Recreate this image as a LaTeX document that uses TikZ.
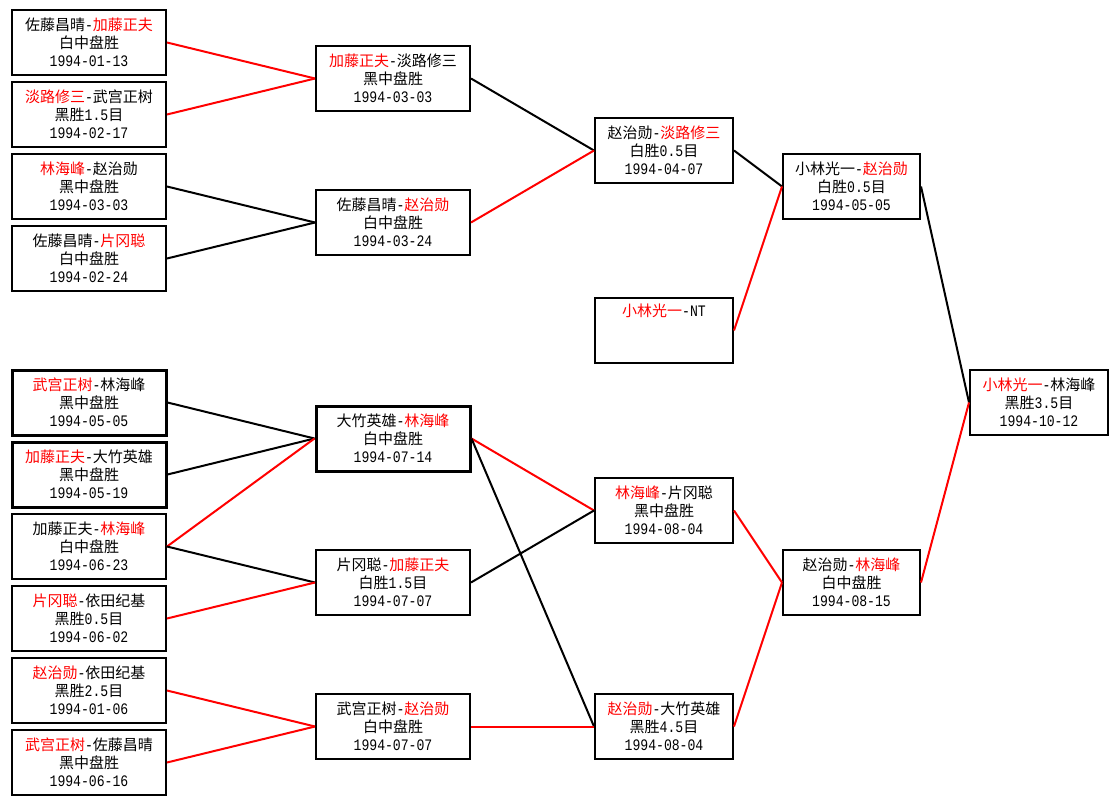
\documentclass[tikz,border=0pt]{standalone}
\usepackage{fontspec}
\setmainfont{Noto Sans CJK SC}
\newfontfamily\monofam[FakeStretch=0.82]{Liberation Mono}
\newcommand\rt[1]{\textcolor{red}{#1}}
\newcommand\mn[1]{{\monofam\fontsize{16}{18}\selectfont #1}}
\newcommand\hy{\mn{-}}
\begin{document}
\begin{tikzpicture}[x=1pt,y=-1pt,
  game/.style={draw=black, line width=2pt, fill=white, rectangle, minimum height=65pt,
    align=center, inner sep=0pt, font=\fontsize{15}{18}\selectfont},
  thick game/.style={game, line width=3pt},
  cA/.style={minimum width=154pt},
  cB/.style={minimum width=154pt},
  cC/.style={minimum width=138pt},
  cD/.style={minimum width=137pt},
  cE/.style={minimum width=138pt},
  win/.style={draw=red, line width=2pt},
  lose/.style={draw=black, line width=2pt}
]
\useasboundingbox (0,0) rectangle (1119,805);
% column 1
\node[game,cA] (n1) at (89,42.5) {佐藤昌晴\hy\rt{加藤正夫}\\白中盘胜\\\mn{1994-01-13}};
\node[game,cA] (n2) at (89,114.5) {\rt{淡路修三}\hy 武宫正树\\黑胜\mn{1.5}目\\\mn{1994-02-17}};
\node[game,cA] (n3) at (89,186.5) {\rt{林海峰}\hy 赵治勋\\黑中盘胜\\\mn{1994-03-03}};
\node[game,cA] (n4) at (89,258.5) {佐藤昌晴\hy\rt{片冈聪}\\白中盘胜\\\mn{1994-02-24}};
\node[thick game,cA] (n5) at (89,402.5) {\rt{武宫正树}\hy 林海峰\\黑中盘胜\\\mn{1994-05-05}};
\node[thick game,cA] (n6) at (89,474.5) {\rt{加藤正夫}\hy 大竹英雄\\黑中盘胜\\\mn{1994-05-19}};
\node[game,cA] (n7) at (89,546.5) {加藤正夫\hy\rt{林海峰}\\白中盘胜\\\mn{1994-06-23}};
\node[game,cA] (n8) at (89,618.5) {\rt{片冈聪}\hy 依田纪基\\黑胜\mn{0.5}目\\\mn{1994-06-02}};
\node[game,cA] (n9) at (89,690.5) {\rt{赵治勋}\hy 依田纪基\\黑胜\mn{2.5}目\\\mn{1994-01-06}};
\node[game,cA] (n10) at (89,762.5) {\rt{武宫正树}\hy 佐藤昌晴\\黑中盘胜\\\mn{1994-06-16}};
% column 2
\node[game,cB] (a) at (393,78.5) {\rt{加藤正夫}\hy 淡路修三\\黑中盘胜\\\mn{1994-03-03}};
\node[game,cB] (b) at (393,222.5) {佐藤昌晴\hy\rt{赵治勋}\\白中盘胜\\\mn{1994-03-24}};
\node[thick game,cB] (c) at (393,438.5) {大竹英雄\hy\rt{林海峰}\\白中盘胜\\\mn{1994-07-14}};
\node[game,cB] (d) at (393,582.5) {片冈聪\hy\rt{加藤正夫}\\白胜\mn{1.5}目\\\mn{1994-07-07}};
\node[game,cB] (e) at (393,726.5) {武宫正树\hy\rt{赵治勋}\\白中盘胜\\\mn{1994-07-07}};
% column 3
\node[game,cC] (f) at (664,150.5) {赵治勋\hy\rt{淡路修三}\\白胜\mn{0.5}目\\\mn{1994-04-07}};
\node[game,cC] (g) at (664,330.5) {\rt{小林光一}\mn{-NT}\\\strut\\\strut};
\node[game,cC] (h) at (664,510.5) {\rt{林海峰}\hy 片冈聪\\黑中盘胜\\\mn{1994-08-04}};
\node[game,cC] (i) at (664,726.5) {\rt{赵治勋}\hy 大竹英雄\\黑胜\mn{4.5}目\\\mn{1994-08-04}};
% column 4
\node[game,cD] (j) at (851.5,186.5) {小林光一\hy\rt{赵治勋}\\白胜\mn{0.5}目\\\mn{1994-05-05}};
\node[game,cD] (k) at (851.5,582.5) {赵治勋\hy\rt{林海峰}\\白中盘胜\\\mn{1994-08-15}};
% column 5
\node[game,cE] (fin) at (1039,402.5) {\rt{小林光一}\hy 林海峰\\黑胜\mn{3.5}目\\\mn{1994-10-12}};
% connectors
\draw[win] (n1.east) -- (a.west);
\draw[win] (n2.east) -- (a.west);
\draw[lose] (n3.east) -- (b.west);
\draw[lose] (n4.east) -- (b.west);
\draw[lose] (a.east) -- (f.west);
\draw[win] (b.east) -- (f.west);
\draw[lose] (f.east) -- (j.west);
\draw[win] (g.east) -- (j.west);
\draw[lose] (j.east) -- (fin.west);
\draw[lose] (n5.east) -- (c.west);
\draw[lose] (n6.east) -- (c.west);
\draw[win] (n7.east) -- (c.west);
\draw[lose] (n7.east) -- (d.west);
\draw[win] (n8.east) -- (d.west);
\draw[win] (n9.east) -- (e.west);
\draw[win] (n10.east) -- (e.west);
\draw[win] (c.east) -- (h.west);
\draw[lose] (c.east) -- (i.west);
\draw[lose] (d.east) -- (h.west);
\draw[win] (e.east) -- (i.west);
\draw[win] (h.east) -- (k.west);
\draw[win] (i.east) -- (k.west);
\draw[win] (k.east) -- (fin.west);
\end{tikzpicture}
\end{document}
